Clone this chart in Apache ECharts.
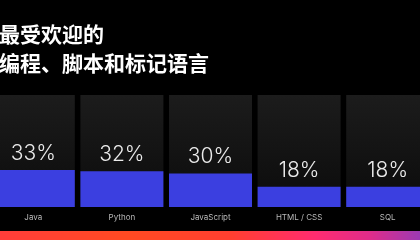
<!DOCTYPE html>
<html>
<head>
<meta charset="utf-8">
<script src="https://cdn.jsdelivr.net/npm/echarts@6/dist/echarts.min.js"></script>
<style>
html,body{margin:0;padding:0;background:#000;overflow:hidden;width:420px;height:240px;}
#c{width:443px;height:240px;margin-left:-11px;}
</style>
</head>
<body>
<div id="c"></div>
<script>
var titleLines = ['最受欢迎的', '编程、脚本和标记语言'];
var categories = ['Java', 'Python', 'JavaScript', 'HTML / CSS', 'SQL'];
var shares = [33, 32, 30, 18, 18];

var chart = echarts.init(document.getElementById('c'), null, {renderer: 'canvas'});
chart.setOption({
  backgroundColor: '#000000',
  animation: false,
  title: {
    text: titleLines.join('\n'),
    left: 10,
    top: 20,
    padding: 0,
    textStyle: {
      color: '#ffffff',
      fontSize: 21,
      fontWeight: 'bold',
      lineHeight: 29,
      fontFamily: '"Noto Sans CJK SC", sans-serif'
    }
  },
  grid: {left: 0, right: 0, top: 95, bottom: 33},
  xAxis: {
    type: 'category',
    data: categories,
    axisLine: {show: false},
    axisTick: {show: false},
    axisLabel: {
      color: '#b8b8b8',
      fontSize: 8,
      margin: 7,
      fontFamily: 'Inter, "DejaVu Sans", sans-serif'
    }
  },
  yAxis: {
    type: 'value',
    min: 0,
    max: 100,
    show: false,
    splitLine: {show: false}
  },
  series: [{
    type: 'bar',
    data: shares,
    barWidth: 83,
    showBackground: true,
    backgroundStyle: {
      color: new echarts.graphic.LinearGradient(0, 0, 0, 1, [
        {offset: 0, color: '#1c1c1c'},
        {offset: 1, color: '#0b0b0b'}
      ])
    },
    itemStyle: {color: '#3b3fe0'},
    label: {
      show: true,
      position: 'top',
      distance: 6,
      formatter: '{c}%',
      color: '#ebebeb',
      fontSize: 21,
      fontWeight: 300,
      fontFamily: 'Inter, "Noto Sans", sans-serif'
    }
  }],
  graphic: [{
    type: 'rect',
    left: 11,
    top: 231,
    shape: {width: 420, height: 9},
    style: {
      fill: new echarts.graphic.LinearGradient(0, 0, 1, 0, [
        {offset: 0, color: '#ff3d3a'},
        {offset: 0.3, color: '#ff4a22'},
        {offset: 0.55, color: '#ff3f30'},
        {offset: 0.75, color: '#ff2c70'},
        {offset: 0.88, color: '#e02c8a'},
        {offset: 1, color: '#9c3ab4'}
      ])
    },
    silent: true
  }]
});
</script>
</body>
</html>
